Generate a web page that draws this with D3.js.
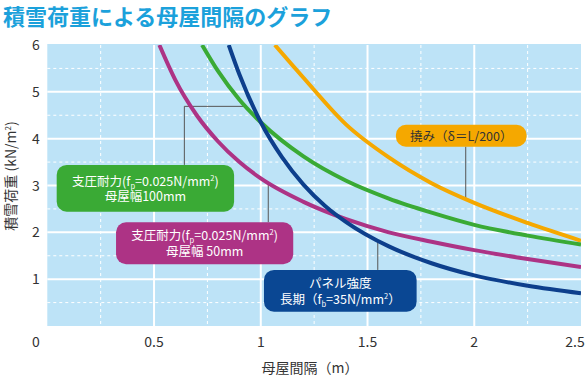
<!DOCTYPE html>
<html>
<head>
<meta charset="utf-8">
<script src="https://cdn.jsdelivr.net/npm/d3@7"></script>
<style>
  body { margin: 0; background: #fff; }
  text { font-family: "Noto Sans CJK JP", "Noto Sans", sans-serif; }
</style>
</head>
<body>
<div id="chart"></div>
<script>
// values: [spacing (m), snow load (kN/m2)]
const deflection = [[1.066, 6], [1.2, 5.3], [1.4, 4.3], [1.6, 3.6], [1.8, 3.05], [2.0, 2.63], [2.25, 2.2], [2.5, 1.82]];
const bearing100 = [[0.725, 6], [0.8, 5.44], [0.9, 4.83], [1.0, 4.35], [1.2, 3.62], [1.4, 3.1], [1.6, 2.72], [1.8, 2.42], [2.0, 2.16], [2.25, 1.93], [2.5, 1.74]];
const bearing50 = [[0.525, 6], [0.6, 5.25], [0.7, 4.5], [0.8, 3.94], [0.9, 3.5], [1.0, 3.15], [1.2, 2.65], [1.4, 2.28], [1.6, 2.0], [1.8, 1.8], [2.0, 1.62], [2.25, 1.43], [2.5, 1.26]];
const panel = [[0.85, 6], [0.9, 5.37], [1.0, 4.35], [1.1, 3.6], [1.2, 3.02], [1.3, 2.57], [1.4, 2.22], [1.6, 1.7], [1.8, 1.34], [2.0, 1.08], [2.25, 0.86], [2.5, 0.70]];

const xTicks = [0.5, 1, 1.5, 2, 2.5];
const yTicks = [1, 2, 3, 4, 5, 6];

const width = 587, height = 377;

const x = d3.scaleLinear().domain([0, 2.5]).range([47.3, 581]);
const y = d3.scaleLinear().domain([0, 6]).range([326, 45]);

const svg = d3.select("#chart").append("svg")
  .attr("width", width)
  .attr("height", height);

// title
svg.append("text")
  .attr("x", 3).attr("y", 25)
  .attr("fill", "#1ba1db")
  .attr("font-size", 22)
  .attr("font-weight", "bold")
  .text("積雪荷重による母屋間隔のグラフ");

// plot background
svg.append("rect")
  .attr("x", x(0)).attr("y", y(6) - 1)
  .attr("width", x(2.5) - x(0)).attr("height", y(0) - y(6) + 1)
  .attr("fill", "#bde3f7");

// minor dashed grid
const grid = svg.append("g").attr("stroke", "#fff");
grid.selectAll(".vx")
  .data(d3.range(0.25, 2.5, 0.5))
  .join("line")
  .attr("x1", d => x(d)).attr("x2", d => x(d))
  .attr("y1", y(6)).attr("y2", y(0))
  .attr("stroke-width", 1)
  .attr("stroke-dasharray", "3,3");
grid.selectAll(".hy")
  .data(d3.range(0.5, 6, 1))
  .join("line")
  .attr("x1", x(0)).attr("x2", x(2.5))
  .attr("y1", d => y(d)).attr("y2", d => y(d))
  .attr("stroke-width", 1)
  .attr("stroke-dasharray", "3,3");

// major solid grid
grid.append("g").selectAll("line")
  .data(xTicks.slice(0, -1))
  .join("line")
  .attr("x1", d => x(d)).attr("x2", d => x(d))
  .attr("y1", y(6)).attr("y2", y(0))
  .attr("stroke-width", 2);
grid.append("g").selectAll("line")
  .data(yTicks.slice(0, -1))
  .join("line")
  .attr("x1", x(0)).attr("x2", x(2.5))
  .attr("y1", d => y(d)).attr("y2", d => y(d))
  .attr("stroke-width", 2);

// tick labels
svg.append("g")
  .attr("font-size", 14).attr("fill", "#333").attr("text-anchor", "middle")
  .selectAll("text")
  .data(xTicks)
  .join("text")
  .attr("x", d => d === 2.5 ? x(d) - 6 : x(d)).attr("y", 347)
  .attr("font-family", "'Open Sans', sans-serif")
  .text(d => d);
svg.append("g")
  .attr("font-size", 14).attr("fill", "#333").attr("text-anchor", "middle")
  .selectAll("text")
  .data([0].concat(yTicks))
  .join("text")
  .attr("x", 36).attr("y", d => d === 0 ? 347 : y(d) + 5)
  .attr("font-family", "'Open Sans', sans-serif")
  .text(d => d);

// axis titles
const yt = svg.append("text")
  .attr("transform", "translate(16,176) rotate(-90)")
  .attr("text-anchor", "middle").attr("font-size", 14).attr("fill", "#333");
yt.append("tspan").text("積雪荷重 (kN/m");
yt.append("tspan").attr("font-size", 8).attr("dy", -5).text("2");
yt.append("tspan").attr("dy", 5).text(")");

svg.append("text")
  .attr("x", 310).attr("y", 373)
  .attr("text-anchor", "middle").attr("font-size", 14).attr("fill", "#333")
  .text("母屋間隔（m）");

// curves
svg.append("clipPath").attr("id", "clip")
  .append("rect")
  .attr("x", x(0)).attr("y", y(6))
  .attr("width", x(2.5) - x(0)).attr("height", y(0) - y(6));

const line = d3.line()
  .x(d => x(d[0])).y(d => y(d[1]))
  .curve(d3.curveMonotoneX);

const series = [
  { data: deflection, color: "#f5a800" },
  { data: bearing100, color: "#3aaa35" },
  { data: bearing50, color: "#ad3385" },
  { data: panel, color: "#0d3f8c" }
];

// leader lines, drawn under the boxes
const leaders = [
  [[0.642, 3.44], [0.642, 4.69], [0.917, 4.69]],
  [[1.035, 2.216], [1.035, 3.04]],
  [[1.548, 1.197], [1.548, 1.80]],
  [[1.96, 3.83], [1.96, 2.69]]
];
svg.append("g")
  .attr("fill", "none").attr("stroke", "#555").attr("stroke-width", 1)
  .selectAll("path")
  .data(leaders)
  .join("path")
  .attr("d", d3.line().x(d => x(d[0])).y(d => y(d[1])));

svg.append("g")
  .attr("clip-path", "url(#clip)")
  .attr("fill", "none")
  .attr("stroke-width", 4)
  .selectAll("path")
  .data(series)
  .join("path")
  .attr("stroke", d => d.color)
  .attr("d", d => line(d.data));

// label boxes: [x0, x1, yTop, yBottom] in data units
const boxes = [
  { box: [0.044, 0.875, 3.44, 2.44], fill: "#3aaa35", color: "#fff",
    lines: [[["支圧耐力(f", 0], ["p", 1], ["=0.025N/mm", 0], ["2", 2], [")", 0]], [["母屋幅100mm", 0]]] },
  { box: [0.322, 1.152, 2.216, 1.318], fill: "#ad3385", color: "#fff",
    lines: [[["支圧耐力(f", 0], ["p", 1], ["=0.025N/mm", 0], ["2", 2], [")", 0]], [["母屋幅 50mm", 0]]] },
  { box: [1.015, 1.73, 1.197, 0.306], fill: "#0a4793", color: "#fff",
    lines: [[["パネル強度", 0]], [["長期（f", 0], ["b", 1], ["=35N/mm", 0], ["2", 2], ["）", 0]]] },
  { box: [1.633, 2.245, 4.295, 3.83], fill: "#f5a800", color: "#333",
    lines: [[["撓み（δ＝L/200）", 0]]] }
];

const bg = svg.append("g").selectAll("g")
  .data(boxes)
  .join("g");

bg.append("rect")
  .attr("x", d => x(d.box[0])).attr("y", d => y(d.box[2]))
  .attr("width", d => x(d.box[1]) - x(d.box[0]))
  .attr("height", d => y(d.box[3]) - y(d.box[2]))
  .attr("rx", d => Math.min(10, (y(d.box[3]) - y(d.box[2])) / 2))
  .attr("fill", d => d.fill);

bg.each(function(d) {
  const g = d3.select(this);
  const cx = (x(d.box[0]) + x(d.box[1])) / 2;
  const cy = (y(d.box[2]) + y(d.box[3])) / 2;
  const n = d.lines.length;
  d.lines.forEach((parts, i) => {
    const t = g.append("text")
      .attr("x", cx)
      .attr("y", cy + 5 + (i - (n - 1) / 2) * 15.5)
      .attr("text-anchor", "middle")
      .attr("font-size", 12.5)
      .attr("fill", d.color);
    let shift = 0;
    parts.forEach(([s, kind]) => {
      const target = kind === 1 ? 3 : kind === 2 ? -5 : 0;
      t.append("tspan")
        .attr("dy", target - shift)
        .attr("font-size", kind ? 7.5 : null)
        .text(s);
      shift = target;
    });
  });
});
</script>
</body>
</html>
